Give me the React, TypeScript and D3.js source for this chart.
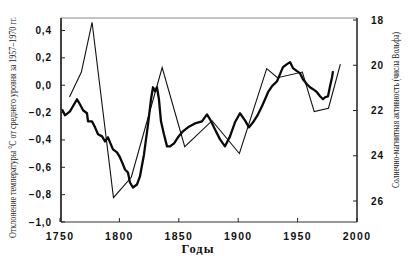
import React from "react";
import * as d3 from "d3";

// Temperature anomaly (°C, vs 1957–1970 mean) — thick line, left axis
const tempYears = [
  1751.7, 1754.2, 1758.4, 1760.9, 1764.3, 1766.8, 1769.4, 1772.7, 1773.6, 1776.9,
  1779.5, 1782.0, 1785.4, 1787.9, 1790.4, 1792.1, 1794.6, 1798.0, 1800.5, 1803.0,
  1804.7, 1807.2, 1808.9, 1811.4, 1814.8, 1817.3, 1820.7, 1824.1, 1826.6, 1828.3,
  1830.0, 1831.6, 1833.3, 1835.0, 1837.5, 1840.1, 1842.6, 1846.0, 1849.3, 1853.5,
  1857.7, 1863.6, 1869.5, 1873.7, 1876.3, 1880.5, 1884.7, 1888.9, 1893.1, 1897.3,
  1901.5, 1905.7, 1909.1, 1912.5, 1916.7, 1920.0, 1922.6, 1925.1, 1928.5, 1932.7,
  1935.2, 1937.7, 1941.1, 1943.6, 1946.1, 1949.5, 1952.0, 1954.5, 1957.9, 1960.4,
  1963.0, 1966.3, 1968.9, 1971.4, 1973.1, 1975.6, 1977.3, 1979.0, 1979.8,
];
const tempValues = [
  -0.176, -0.22, -0.191, -0.154, -0.103, -0.139, -0.183, -0.205, -0.264, -0.264,
  -0.308, -0.359, -0.374, -0.411, -0.381, -0.418, -0.469, -0.491, -0.528, -0.579,
  -0.616, -0.638, -0.711, -0.748, -0.726, -0.667, -0.506, -0.286, -0.103, -0.015,
  -0.044, -0.015, -0.103, -0.264, -0.359, -0.447, -0.447, -0.425, -0.381, -0.337,
  -0.308, -0.279, -0.264, -0.213, -0.249, -0.323, -0.396, -0.447, -0.374, -0.271,
  -0.205, -0.257, -0.308, -0.271, -0.213, -0.154, -0.103, -0.051, -0.007, 0.029,
  0.081, 0.132, 0.154, 0.169, 0.125, 0.103, 0.088, 0.044, 0.007, -0.015,
  -0.029, -0.051, -0.081, -0.103, -0.088, -0.081, -0.007, 0.059, 0.103,
];

// Solar-magnetic activity (Wolf numbers, inverted) — thin line, right axis
const solarYears = [1758, 1768, 1777, 1795, 1810, 1836, 1855, 1878, 1901, 1924, 1933, 1954, 1964, 1976, 1986];
const solarValues = [21.4, 20.3, 18.1, 25.85, 24.95, 20.1, 23.6, 22.45, 23.9, 20.15, 20.55, 20.3, 22.05, 21.9, 19.95];

const xTicks = [1750, 1800, 1850, 1900, 1950, 2000];
const leftTicks = [0.4, 0.2, 0.0, -0.2, -0.4, -0.6, -0.8, -1.0];
const rightTicks = [18, 20, 22, 24, 26];

const leftLabel = "Отклонение температуры °С от среднего уровня за 1957–1970 гг.";
const rightLabel = "Солнечно-магнитная активность (числа Вольфа)";
const xLabel = "Годы";

const fmtLeft = (v: number) => {
  const s = Math.abs(v).toFixed(1).replace(".", ",");
  return v < -1e-9 ? "−" + s : s;
};

export default function App() {
  const W = 415, H = 260;
  const left = 61, right = 357, top = 18, bottom = 222;

  const x = d3.scaleLinear().domain([1750, 2000]).range([60, 357]);
  const yL = d3.scaleLinear().domain([-1.0, 0.4]).range([222, 30.5]);
  const yR = d3.scaleLinear().domain([18, 26]).range([20, 201]);

  const tempLine = d3
    .line<number>()
    .x((_, i) => x(tempYears[i]))
    .y((d) => yL(d))
    .curve(d3.curveLinear);
  const solarLine = d3
    .line<number>()
    .x((_, i) => x(solarYears[i]))
    .y((d) => yR(d));

  const tickFont = "'Liberation Sans', Arial, sans-serif";
  const serif = "'Liberation Serif', 'Times New Roman', serif";

  return (
    <div style={{ position: "fixed", left: 0, top: 0 }}>
      <svg width={W} height={H} viewBox={`0 0 ${W} ${H}`} style={{ display: "block", background: "#fff" }}>
        {/* frame */}
        <line x1={left} x2={right} y1={top} y2={top} stroke="#888" strokeWidth={1} />
        <line x1={left} x2={left} y1={top} y2={bottom} stroke="#111" strokeWidth={1.6} />
        <line x1={right} x2={right} y1={top} y2={bottom} stroke="#111" strokeWidth={1.4} />
        <line x1={left} x2={right} y1={bottom} y2={bottom} stroke="#333" strokeWidth={1.1} />

        {/* left ticks */}
        {leftTicks.map((t) => (
          <g key={"l" + t}>
            <line x1={left} x2={left + 4} y1={yL(t)} y2={yL(t)} stroke="#222" strokeWidth={1} />
            <text
              x={52}
              y={yL(t)}
              dy="0.35em"
              textAnchor="end"
              fontFamily={tickFont}
              fontWeight="bold"
              fontSize={10}
              letterSpacing={0.9}
              fill="#111"
            >
              {fmtLeft(t)}
            </text>
          </g>
        ))}

        {/* right ticks */}
        {rightTicks.map((t) => (
          <g key={"r" + t}>
            <line x1={right - 4} x2={right} y1={yR(t)} y2={yR(t)} stroke="#222" strokeWidth={1} />
            <text
              x={371}
              y={yR(t)}
              dy="0.35em"
              textAnchor="start"
              fontFamily={tickFont}
              fontWeight="bold"
              fontSize={10}
              letterSpacing={1}
              fill="#111"
            >
              {t}
            </text>
          </g>
        ))}

        {/* bottom ticks */}
        {xTicks.map((t) => (
          <g key={"x" + t}>
            <line x1={x(t)} x2={x(t)} y1={bottom} y2={bottom - 4} stroke="#222" strokeWidth={1} />
            <text
              x={x(t)}
              y={240}
              textAnchor="middle"
              fontFamily={tickFont}
              fontWeight="bold"
              fontSize={10.5}
              letterSpacing={1.3}
              fill="#111"
            >
              {t}
            </text>
          </g>
        ))}

        {/* data */}
        <path d={solarLine(solarValues) || ""} fill="none" stroke="#111" strokeWidth={1.1} strokeLinejoin="miter" />
        <path d={tempLine(tempValues) || ""} fill="none" stroke="#0a0a0a" strokeWidth={2.3} strokeLinejoin="round" />

        {/* axis titles */}
        <text
          x={198}
          y={253}
          textAnchor="middle"
          fontFamily={serif}
          fontWeight="bold"
          fontSize={12.5}
          letterSpacing={1}
          fill="#111"
        >
          {xLabel}
        </text>
        <text
          transform={`translate(16,127.5) rotate(-90)`}
          textAnchor="middle"
          fontFamily={serif}
          fontSize={9.5}
          textLength={221}
          lengthAdjust="spacingAndGlyphs"
          fill="#222"
        >
          {leftLabel}
        </text>
        <text
          transform={`translate(399,110) rotate(-90)`}
          textAnchor="middle"
          fontFamily={serif}
          fontSize={9.5}
          textLength={156}
          lengthAdjust="spacingAndGlyphs"
          fill="#222"
        >
          {rightLabel}
        </text>
      </svg>
    </div>
  );
}
